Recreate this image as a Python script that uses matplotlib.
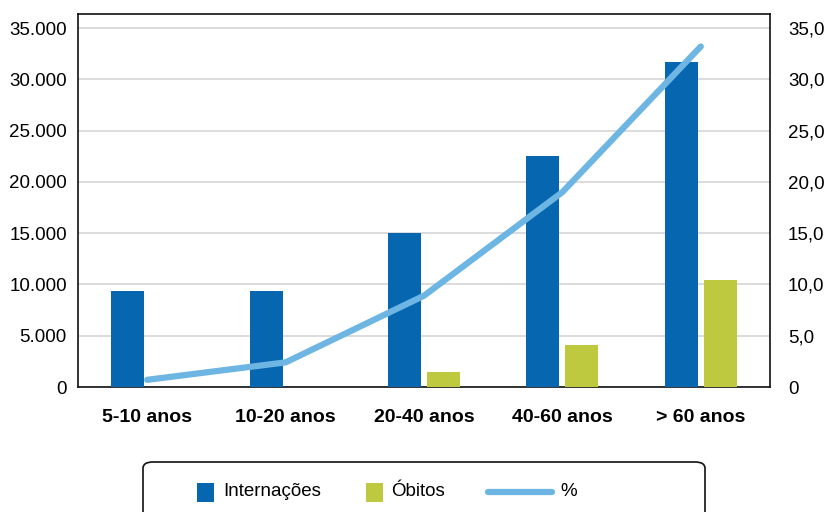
import matplotlib.pyplot as plt
import numpy as np
from matplotlib.patches import Rectangle, FancyBboxPatch
from matplotlib.lines import Line2D
from matplotlib.ticker import FuncFormatter

plt.rcParams['font.family'] = ['Liberation Sans', 'DejaVu Sans']

# data
categories = ['5-10 anos', '10-20 anos', '20-40 anos', '40-60 anos', '> 60 anos']
internacoes = [9400, 9400, 15000, 22500, 31700]
obitos = [0, 0, 1450, 4100, 10400]
percent = [0.7, 2.4, 8.9, 19.0, 33.2]
series_names = ['Internações', 'Óbitos', '%']

blue = '#0666B0'
green = '#BEC93F'
light = '#6DB5E3'

W, H = 829, 512
fig = plt.figure(figsize=(W/100, H/100), dpi=100)
ax = fig.add_axes([78/W, 1-387/H, 692/W, 373/H])

x = np.arange(len(categories))
w = 0.238
off = 0.141
ax.bar(x - off, internacoes, w, color=blue, zorder=3)
ax.bar(x + off, obitos, w, color=green, zorder=3)

ymax = 373/359*35000
ax.set_xlim(-0.5, 4.5)
ax.set_ylim(0, ymax)
ax.set_yticks(np.arange(0, 35001, 5000))
ax.yaxis.set_major_formatter(FuncFormatter(lambda v, p: '0' if v == 0 else f'{int(v):,}'.replace(',', '.')))
ax.grid(axis='y', color='#D5D5D8', lw=1.2, zorder=0)
ax.set_xticks(x)
ax.set_xticklabels(categories, fontsize=14, fontweight='bold')
ax.tick_params(axis='x', length=0, pad=16)
ax.tick_params(axis='y', length=0, pad=8, labelsize=13.5)
for s in ax.spines.values():
    s.set_color('#111111')
    s.set_linewidth(1.2)

ax2 = ax.twinx()
ax2.set_ylim(0, ymax/1000)
ax2.set_yticks(np.arange(0, 35.01, 5))
ax2.yaxis.set_major_formatter(FuncFormatter(lambda v, p: '0' if v == 0 else f'{v:.1f}'.replace('.', ',')))
ax2.tick_params(axis='y', length=0, pad=13, labelsize=13.5)
ax2.plot(x, percent, color=light, lw=4.5, solid_capstyle='round', solid_joinstyle='round', zorder=4)
for s in ax2.spines.values():
    s.set_visible(False)

# legend box (runs off the bottom of the figure)
box = FancyBboxPatch((143/W, -0.06), 562/W, 0.06 + 1-462/H,
                     boxstyle='round,pad=0,rounding_size=0.012',
                     transform=fig.transFigure, fc='white', ec='#111111', lw=1.2, zorder=0)
fig.patches.append(box)

ly = 1 - 492/H
sq_w, sq_h = 17/W, 19/H
fig.patches.append(Rectangle((197/W, ly - sq_h/2), sq_w, sq_h, transform=fig.transFigure, fc=blue, ec='none'))
fig.text(223/W, ly, series_names[0], fontsize=13.5, va='center', ha='left')
fig.patches.append(Rectangle((366/W, ly - sq_h/2), sq_w, sq_h, transform=fig.transFigure, fc=green, ec='none'))
fig.text(391/W, ly, series_names[1], fontsize=13.5, va='center', ha='left')
fig.lines.append(Line2D([488/W, 552/W], [ly, ly], transform=fig.transFigure, color=light, lw=4.5,
                        solid_capstyle='round'))
fig.text(560/W, ly, series_names[2], fontsize=13.5, va='center', ha='left')

fig.savefig('out.png', dpi=100)
